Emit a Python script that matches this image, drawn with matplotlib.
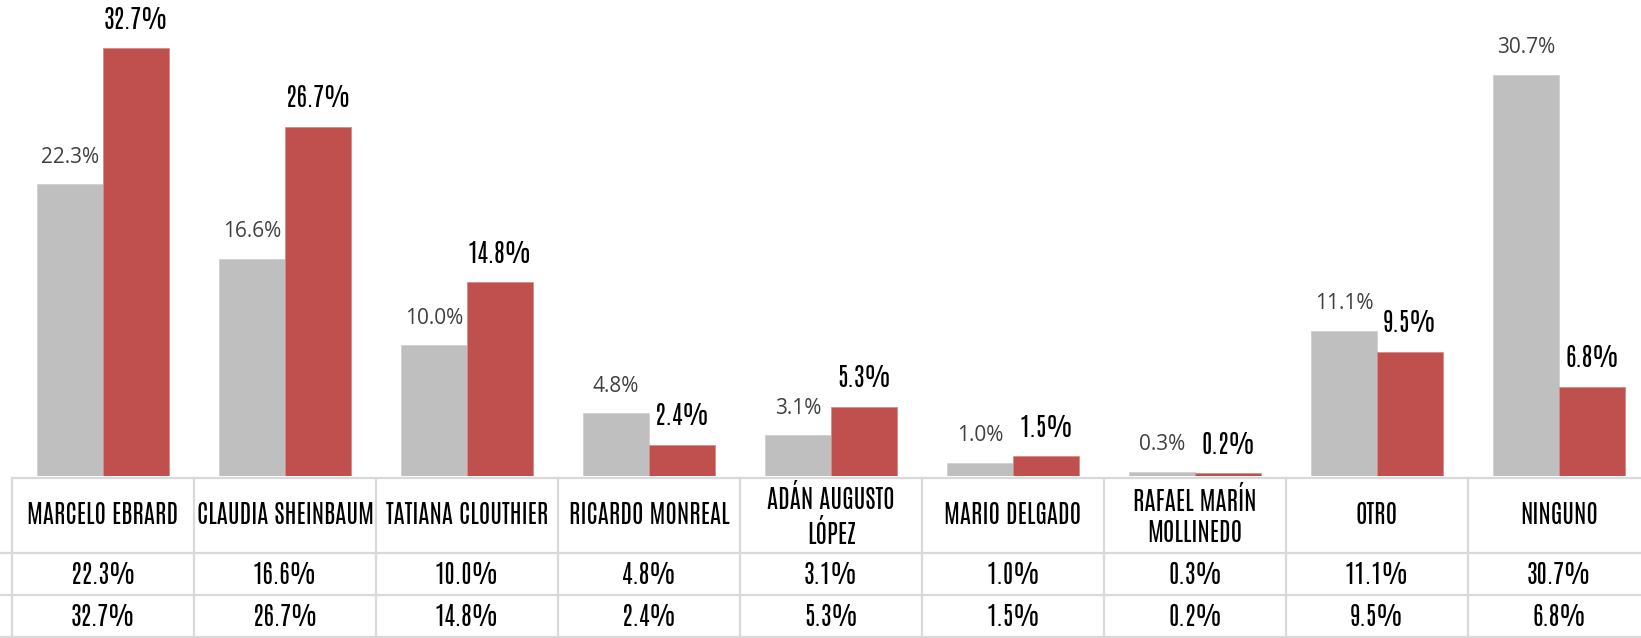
import matplotlib.pyplot as plt
import numpy as np

# data
candidatos = ['MARCELO EBRARD', 'CLAUDIA SHEINBAUM', 'TATIANA CLOUTHIER',
              'RICARDO MONREAL', 'ADÁN AUGUSTO\nLÓPEZ', 'MARIO DELGADO',
              'RAFAEL MARÍN\nMOLLINEDO', 'OTRO', 'NINGUNO']
serie_gris = [22.3, 16.6, 10.0, 4.8, 3.1, 1.0, 0.3, 11.1, 30.7]
serie_roja = [32.7, 26.7, 14.8, 2.4, 5.3, 1.5, 0.2, 9.5, 6.8]

gris = '#bfbfbf'
rojo = '#c0504d'
rejilla = '#d9d9d9'
narrow = ['Antonio', 'DejaVu Sans']

W, H = 1641, 638
fig = plt.figure(figsize=(W/100, H/100), dpi=100)

# bars
ax = fig.add_axes([12/W, 162/H, 1638/W, 476/H])
x = np.arange(len(candidatos))
bw = 66/182
b1 = ax.bar(x - bw/2, serie_gris, bw, color=gris, edgecolor='#d0d0d0', linewidth=0.6)
b2 = ax.bar(x + bw/2, serie_roja, bw, color=rojo, edgecolor='#d98a88', linewidth=0.6)
ax.set_xlim(-0.5, 8.5)
ax.set_ylim(0, 36.4)
ax.axis('off')

for r, v in zip(b1, serie_gris):
    ax.annotate('%.1f%%' % v, (r.get_x() + r.get_width()/2, v), xytext=(0, 12),
                textcoords='offset points', ha='center', va='bottom',
                fontsize=15, family='Open Sans', color='#404040')
for r, v in zip(b2, serie_roja):
    ax.annotate('%.1f%%' % v, (r.get_x() + r.get_width()/2, v), xytext=(0, 12),
                textcoords='offset points', ha='center', va='bottom',
                fontsize=18, family=narrow, color='black')

# data table
at = fig.add_axes([12/W, 0, 1638/W, 161/H])
at.set_xlim(-0.5, 8.5)
at.set_ylim(0, 161)
at.axis('off')

at.plot([-0.5, 8.5], [160, 160], color=rejilla, lw=1.6, clip_on=False)
for yy in [85, 43, 1]:
    at.plot([-0.6, 8.5], [yy, yy], color=rejilla, lw=1.6, clip_on=False)
for k in range(len(candidatos) + 1):
    at.plot([k - 0.5, k - 0.5], [1, 160], color=rejilla, lw=1.6, clip_on=False)

for i, nombre in enumerate(candidatos):
    at.text(i, 123, nombre, ha='center', va='center', fontsize=18,
            family=narrow, linespacing=1.25)
    at.text(i, 64, '%.1f%%' % serie_gris[i], ha='center', va='center',
            fontsize=18, family=narrow)
    at.text(i, 22, '%.1f%%' % serie_roja[i], ha='center', va='center',
            fontsize=18, family=narrow)

fig.savefig('out.png', dpi=100, facecolor='w')
